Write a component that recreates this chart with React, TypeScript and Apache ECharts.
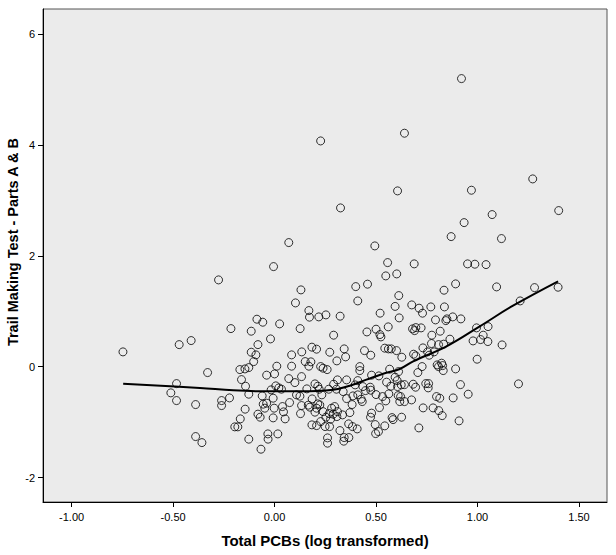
import React, { useEffect, useRef } from "react";
import * as echarts from "echarts";

// Scatter points: [Total PCBs (log), Trail Making Test z-score]
const pointsX: number[] = [
  0.227, 0.606, 0.325, 0.070, 0.494, -0.005, -0.276, 0.557, 0.130, 0.548,
  0.602, 0.400, 0.458, 0.410, 0.103, 0.612, 0.921, 0.640, 0.970, 1.272,
  1.400, 1.072, 0.934, 0.870, 1.118, -0.747, -0.470, -0.411, -0.330, -0.483,
  -0.511, -0.483, -0.389, -0.389, -0.358, -0.215, -0.261, -0.261, -0.222, -0.087,
  -0.058, -0.115, 0.025, -0.020, -0.082, -0.115, -0.092, -0.103, -0.127, -0.146,
  -0.171, -0.163, -0.143, -0.127, -0.145, -0.169, -0.196, -0.181, -0.127, -0.067,
  -0.033, -0.032, 0.016, -0.082, -0.071, -0.061, -0.056, -0.048, -0.039, -0.007,
  -0.002, -0.007, -0.017, -0.039, 0.000, 0.011, 0.006, 0.021, 0.034, 0.039,
  0.044, 0.052, 0.074, 0.084, 0.084, 0.070, 0.100, 0.108, 0.169, 0.172,
  0.218, 0.253, 0.323, 0.126, 0.291, 0.455, 0.500, 0.520, 0.594, 0.519,
  0.524, 0.560, 0.184, 0.207, 0.134, 0.272, 0.343, 0.350, 0.307, 0.443,
  0.474, 0.543, 0.561, 0.575, 0.601, 0.151, 0.179, 0.169, 0.227, 0.239,
  0.259, 0.420, 0.420, 0.567, 0.611, 0.478, 0.594, 0.133, 0.310, 0.355,
  0.410, 0.199, 0.213, 0.159, 0.220, 0.291, 0.267, 0.305, 0.338, 0.397,
  0.435, 0.448, 0.471, 0.474, 0.552, 0.573, 0.604, 0.125, 0.185, 0.233,
  0.355, 0.386, 0.410, 0.427, 0.500, 0.532, 0.133, 0.166, 0.213, 0.223,
  0.281, 0.296, 0.382, 0.432, 0.548, 0.174, 0.207, 0.199, 0.128, 0.239,
  0.269, 0.289, 0.310, 0.335, 0.371, 0.517, 0.478, 0.473, 0.579, 0.584,
  0.253, 0.276, 0.307, 0.227, 0.207, 0.184, 0.249, 0.271, 0.365, 0.384,
  0.407, 0.496, 0.543, 0.498, 0.512, 0.322, 0.261, 0.261, 0.343, 0.366,
  0.341, 0.688, 0.951, 0.987, 1.042, 0.892, 0.835, 1.094, 1.281, 1.397,
  0.676, 0.712, 0.729, 0.770, 0.837, 1.210, 0.614, 0.793, 0.844, 0.849,
  0.878, 0.918, 0.680, 0.690, 0.696, 0.722, 0.816, 0.775, 0.995, 1.052,
  0.731, 0.773, 0.808, 0.833, 0.864, 0.978, 1.015, 1.028, 1.051, 1.121,
  0.627, 0.685, 0.696, 0.754, 0.762, 0.786, 0.998, 0.514, 0.727, 0.706,
  0.801, 0.808, 0.823, 0.828, 0.831, 0.892, 0.606, 0.624, 0.640, 0.683,
  0.695, 0.745, 0.759, 0.757, 0.916, 1.202, 0.563, 0.609, 0.621, 0.617,
  0.640, 0.675, 0.798, 0.814, 0.880, 0.954, 0.732, 0.781, 0.809, 0.826,
  0.626, 0.711, 0.909,
];
const pointsY: number[] = [
  4.071, 3.170, 2.863, 2.238, 2.178, 1.805, 1.565, 1.877, 1.385, 1.637,
  1.673, 1.444, 1.488, 1.186, 1.150, 1.282, 5.195, 4.210, 3.182, 3.386,
  2.815, 2.743, 2.598, 2.346, 2.310, 0.267, 0.398, 0.471, -0.106, -0.305,
  -0.472, -0.611, -0.683, -1.260, -1.369, 0.687, -0.611, -0.701, -0.563, 0.856,
  0.802, 0.640, 0.772, 0.501, 0.398, 0.261, 0.213, 0.092, -0.016, -0.040,
  -0.052, -0.233, -0.352, -0.496, -0.766, -0.941, -1.085, -1.085, -1.307, -1.488,
  -1.212, -1.307, -1.212, -0.856, -0.911, -0.527, -0.676, -0.748, -0.658, -0.923,
  -0.748, -0.568, -0.418, -0.153, -0.130, 0.009, -0.346, -0.382, -0.406, -0.719,
  -0.815, -0.941, -0.647, 0.213, 0.009, -0.215, -0.287, -0.508, 1.012, 0.893,
  0.898, 0.934, 0.911, 0.687, 0.568, 0.627, 0.676, 0.965, 1.087, 0.579,
  0.537, 0.718, 0.352, 0.316, 0.267, 0.261, 0.321, 0.177, 0.105, 0.290,
  0.207, 0.334, 0.321, 0.321, 0.290, 0.092, 0.087, 0.009, 0.002, -0.027,
  -0.052, 0.002, -0.070, -0.045, -0.088, -0.153, -0.189, -0.179, -0.238, -0.238,
  -0.251, -0.310, -0.352, -0.400, -0.406, -0.316, -0.406, -0.406, -0.449, -0.328,
  -0.359, -0.431, -0.370, -0.424, -0.279, -0.352, -0.251, -0.532, -0.581, -0.508,
  -0.575, -0.527, -0.508, -0.586, -0.503, -0.539, -0.701, -0.694, -0.671, -0.689,
  -0.748, -0.719, -0.683, -0.629, -0.617, -0.730, -0.748, -0.820, -0.846, -0.810,
  -0.846, -0.856, -0.810, -0.869, -0.828, -0.737, -0.838, -0.911, -0.918, -0.954,
  -0.911, -0.947, -0.900, -0.990, -1.062, -1.049, -1.080, -1.080, -1.031, -1.080,
  -1.122, -1.044, -1.067, -1.206, -1.170, -1.152, -1.284, -1.379, -1.278, -1.278,
  -1.343, 1.854, 1.854, 1.848, 1.841, 1.493, 1.379, 1.439, 1.426, 1.433,
  1.114, 1.055, 0.965, 1.078, 1.078, 1.186, 0.880, 0.844, 0.831, 0.862,
  0.898, 0.862, 0.682, 0.651, 0.705, 0.700, 0.640, 0.568, 0.700, 0.723,
  0.339, 0.417, 0.398, 0.406, 0.496, 0.465, 0.489, 0.568, 0.453, 0.393,
  0.171, 0.225, 0.195, 0.267, 0.207, 0.267, 0.135, -0.166, 0.002, -0.106,
  0.032, 0.002, 0.063, 0.020, -0.070, -0.040, -0.359, -0.328, -0.323, -0.316,
  -0.370, -0.305, -0.305, -0.382, -0.323, -0.310, -0.490, -0.521, -0.539, -0.629,
  -0.629, -0.599, -0.539, -0.568, -0.563, -0.496, -0.743, -0.743, -0.792, -0.882,
  -0.911, -1.104, -0.977,
];

// Fit (loess) line
const fitX: number[] = [-0.746, -0.368, -0.204, -0.039, 0.125, 0.289, 0.371, 0.453, 0.535, 0.617, 0.683, 0.847, 1.011, 1.175, 1.397];
const fitY: number[] = [-0.307, -0.384, -0.427, -0.445, -0.445, -0.415, -0.343, -0.234, -0.126, -0.041, 0.096, 0.366, 0.727, 1.10, 1.54];

const xTicks: number[] = [-1, -0.5, 0, 0.5, 1, 1.5];
const yTicks: number[] = [-2, 0, 2, 4, 6];

const X_TITLE = "Total PCBs (log transformed)";
const Y_TITLE = "Trail Making Test - Parts A & B";

const FONT = "'Liberation Sans', Arial, sans-serif";

export default function App() {
  const ref = useRef<HTMLDivElement>(null);
  useEffect(() => {
    if (!ref.current) return;
    const chart = echarts.init(ref.current, undefined, { renderer: "svg" });
    const scatter = pointsX.map((x, i) => [x, pointsY[i]]);
    const fit = fitX.map((x, i) => [x, fitY[i]]);
    chart.setOption({
      animation: false,
      backgroundColor: "#ffffff",
      grid: {
        left: 43,
        top: 9,
        right: 9,
        bottom: 53,
        show: true,
        containLabel: false,
        outerBoundsMode: "none",
        backgroundColor: "#EBEBEB",
        borderColor: "#555555",
        borderWidth: 1,
      },
      graphic: [
        {
          type: "text",
          x: 13,
          y: 242,
          rotation: Math.PI / 2,
          silent: true,
          style: {
            text: Y_TITLE,
            fontFamily: FONT,
            fontWeight: "bold",
            fontSize: 14.5,
            fill: "#000",
            textAlign: "center",
            textVerticalAlign: "middle",
          },
        },
      ],
      xAxis: {
        type: "value",
        min: -1.141,
        max: 1.638,
        name: X_TITLE,
        nameLocation: "middle",
        nameGap: 31,
        nameTextStyle: { fontFamily: FONT, fontWeight: "bold", fontSize: 15, color: "#000" },
        axisLine: { show: true, onZero: false, lineStyle: { color: "#000", width: 1 } },
        axisTick: { show: true, length: 5, inside: false, customValues: xTicks, lineStyle: { color: "#000" } },
        axisLabel: {
          customValues: xTicks,
          margin: 9,
          fontFamily: FONT,
          fontSize: 11,
          color: "#000",
          formatter: (v: number) => v.toFixed(2),
        },
        splitLine: { show: false },
      },
      yAxis: {
        type: "value",
        min: -2.44,
        max: 6.45,
        axisLine: { show: true, onZero: false, lineStyle: { color: "#000", width: 1 } },
        axisTick: { show: true, length: 5, inside: false, customValues: yTicks, lineStyle: { color: "#000" } },
        axisLabel: {
          customValues: yTicks,
          margin: 8,
          fontFamily: FONT,
          fontSize: 11,
          color: "#000",
          formatter: (v: number) => String(v),
        },
        splitLine: { show: false },
      },
      series: [
        {
          type: "scatter",
          data: scatter,
          symbol: "circle",
          symbolSize: 8,
          itemStyle: { color: "rgba(0,0,0,0)", borderColor: "#000", borderWidth: 1 },
          silent: true,
        },
        {
          type: "line",
          data: fit,
          smooth: 0.4,
          symbol: "none",
          lineStyle: { color: "#000", width: 2 },
          silent: true,
          z: 3,
        },
      ],
    });
    return () => chart.dispose();
  }, []);
  return (
    <div
      ref={ref}
      style={{ position: "fixed", left: 0, top: 0, width: 616, height: 555, background: "#fff" }}
    />
  );
}
